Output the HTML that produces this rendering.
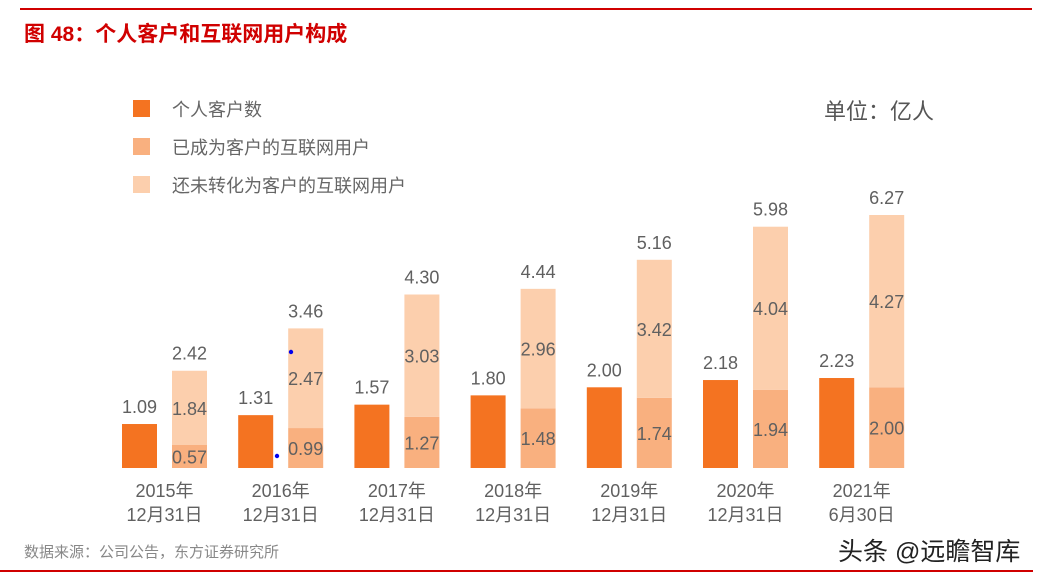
<!DOCTYPE html>
<html><head><meta charset="utf-8">
<style>
body{margin:0;background:#fff;width:1046px;height:579px;overflow:hidden;position:relative;font-family:"Liberation Sans","Noto Sans CJK SC",sans-serif;}
.abs{position:absolute;}
</style></head><body>
<div class="abs" style="left:20px;top:8px;width:1012px;height:2px;background:#d00000"></div>
<div class="abs" style="left:24px;top:18px;font-size:21px;font-weight:bold;color:#d00000;">图 48：个人客户和互联网用户构成</div>
<div class="abs" style="left:824px;top:94px;font-size:22px;color:#555;">单位：亿人</div>
<div class="abs" style="left:24px;top:541px;font-size:15px;color:#888;">数据来源：公司公告，东方证券研究所</div>
<div class="abs" style="left:838px;top:532px;font-size:25px;color:#222;">头条 @远瞻智库</div>
<div class="abs" style="left:0px;top:570px;width:1033px;height:2px;background:#d00000"></div>
<svg class="abs" style="left:0;top:0" width="1046" height="579" id="chart"></svg>
<script>
const categories=["2015年|12月31日","2016年|12月31日","2017年|12月31日","2018年|12月31日","2019年|12月31日","2020年|12月31日","2021年|6月30日"];
const personal=[1.09,1.31,1.57,1.80,2.00,2.18,2.23];
const converted=[0.57,0.99,1.27,1.48,1.74,1.94,2.00];
const unconverted=[1.84,2.47,3.03,2.96,3.42,4.04,4.27];
const totals=[2.42,3.46,4.30,4.44,5.16,5.98,6.27];
const legendLabels=["个人客户数","已成为客户的互联网用户","还未转化为客户的互联网用户"];
const colors=["#F47321","#F9B07F","#FCCFAD"];
const NS="http://www.w3.org/2000/svg";
const svg=document.getElementById('chart');
const base=468, scale=40.35, x0=122, step=116.2, bw=35, gap=50;
function y(v){return base-v*scale;}
function xg(i){return x0+i*step;}
function mk(tag,attrs,txt){const e=document.createElementNS(NS,tag);for(const k in attrs)e.setAttribute(k,attrs[k]);if(txt!==undefined)e.textContent=txt;svg.appendChild(e);return e;}
const tf='"Liberation Sans","Noto Sans CJK SC",sans-serif';
const lc='#606060';
legendLabels.forEach((l,i)=>{
 const r=mk('rect',{x:133,y:100+i*38,width:17,height:17,fill:colors[i]});
 
 
 const t=mk('text',{x:172,y:116+i*38,'font-size':18,fill:'#666','font-family':tf},l);
 
 
});
categories.forEach((c,i)=>{
 const x=xg(i);
 const b1=mk('rect',{x:x,y:y(personal[i]),width:bw,height:personal[i]*scale,fill:colors[0]});
 
 
 const t1=mk('text',{x:x+bw/2,y:y(personal[i])-11,'text-anchor':'middle','font-size':18,fill:lc,'font-family':tf},personal[i].toFixed(2));
 
 
 const x2=x+gap;
 const b2=mk('rect',{x:x2,y:y(converted[i]),width:bw,height:converted[i]*scale,fill:colors[1]});
 
 
 const b3=mk('rect',{x:x2,y:y(converted[i]+unconverted[i]),width:bw,height:unconverted[i]*scale,fill:colors[2]});
 
 
 const t2=mk('text',{x:x2+bw/2,y:y(converted[i]/2)+7,'text-anchor':'middle','font-size':18,fill:lc,'font-family':tf},converted[i].toFixed(2));
 
 
 const t3=mk('text',{x:x2+bw/2,y:y(converted[i]+unconverted[i]/2)+7,'text-anchor':'middle','font-size':18,fill:lc,'font-family':tf},unconverted[i].toFixed(2));
 
 
 const t4=mk('text',{x:x2+bw/2,y:y(totals[i])-11,'text-anchor':'middle','font-size':18,fill:lc,'font-family':tf},totals[i].toFixed(2));
 
 
 const parts=c.split('|');
 parts.forEach((p,j)=>{
  const t=mk('text',{x:x+(gap+bw)/2,y:497+j*24,'text-anchor':'middle','font-size':18,fill:lc,'font-family':tf},p);
  
  
 });
});
const d1=mk('circle',{cx:291,cy:352,r:2.2,fill:'#0000ee'});


const d2=mk('circle',{cx:277,cy:456,r:2.2,fill:'#0000ee'});


</script>
</body></html>
